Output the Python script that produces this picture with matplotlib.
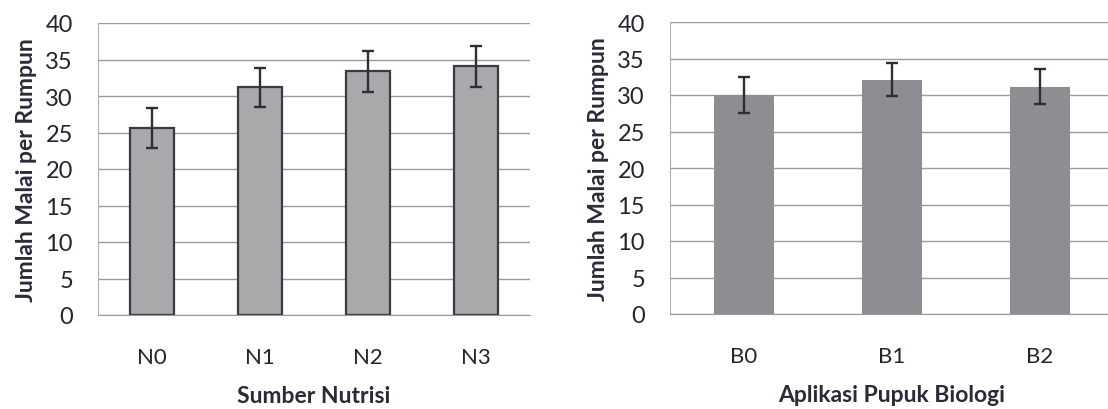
import numpy as np
import matplotlib.pyplot as plt

plt.rcParams['font.family'] = ['Lato', 'DejaVu Sans']

nutrisi = ["N0", "N1", "N2", "N3"]
nutrisi_val = [25.6, 31.2, 33.4, 34.1]
nutrisi_err = [2.7, 2.7, 2.8, 2.8]

pupuk = ["B0", "B1", "B2"]
pupuk_val = [30.0, 32.1, 31.1]
pupuk_err = [2.4, 2.3, 2.4]

yticks = [0, 5, 10, 15, 20, 25, 30, 35, 40]
ylabel = "Jumlah Malai per Rumpun"

fig = plt.figure(figsize=(11.08, 4.10), dpi=100)
ax1 = fig.add_axes([98 / 1108, 94 / 410, 432 / 1108, 292 / 410])
ax2 = fig.add_axes([670 / 1108, 95 / 410, 444 / 1108, 292 / 410])


def draw(ax, cats, vals, errs, xlabel, fill, edge, lw):
	x = np.arange(len(cats))
	ax.bar(x, vals, width=0.4, color=fill, edgecolor=edge, linewidth=lw, zorder=2)
	ax.errorbar(x, vals, yerr=errs, fmt="none", ecolor="#2e2e38",
		elinewidth=1.7, capsize=4, capthick=1.7, zorder=3)
	ax.set_xlim(-0.5, len(cats) - 0.5)
	ax.set_ylim(0, 40)
	ax.set_yticks(yticks)
	ax.set_xticks(x)
	ax.set_xticklabels(cats)
	ax.yaxis.grid(True, color="#9a9a9a", linewidth=1.0, zorder=0)
	ax.set_axisbelow(True)
	for s in ["top", "right"]:
		ax.spines[s].set_visible(False)
	ax.spines["left"].set_color("#b0b0b0")
	ax.spines["bottom"].set_color("#9a9a9a")
	ax.tick_params(axis="y", length=0, pad=18, labelsize=17, labelcolor="#24242e")
	ax.tick_params(axis="x", length=0, pad=23, labelsize=16, labelcolor="#24242e")
	ax.set_ylabel(ylabel, fontsize=16.5, fontweight="bold", color="#2a2a3a", labelpad=6)
	ax.set_xlabel(xlabel, fontsize=16.5, fontweight="bold", color="#2a2a3a", labelpad=13)


draw(ax1, nutrisi, nutrisi_val, nutrisi_err, "Sumber Nutrisi", "#a9a9ab", "#3a3a44", 1.6)
draw(ax2, pupuk, pupuk_val, pupuk_err, "Aplikasi Pupuk Biologi", "#8e8e92", "none", 0)

fig.savefig("out.png", dpi=100)
